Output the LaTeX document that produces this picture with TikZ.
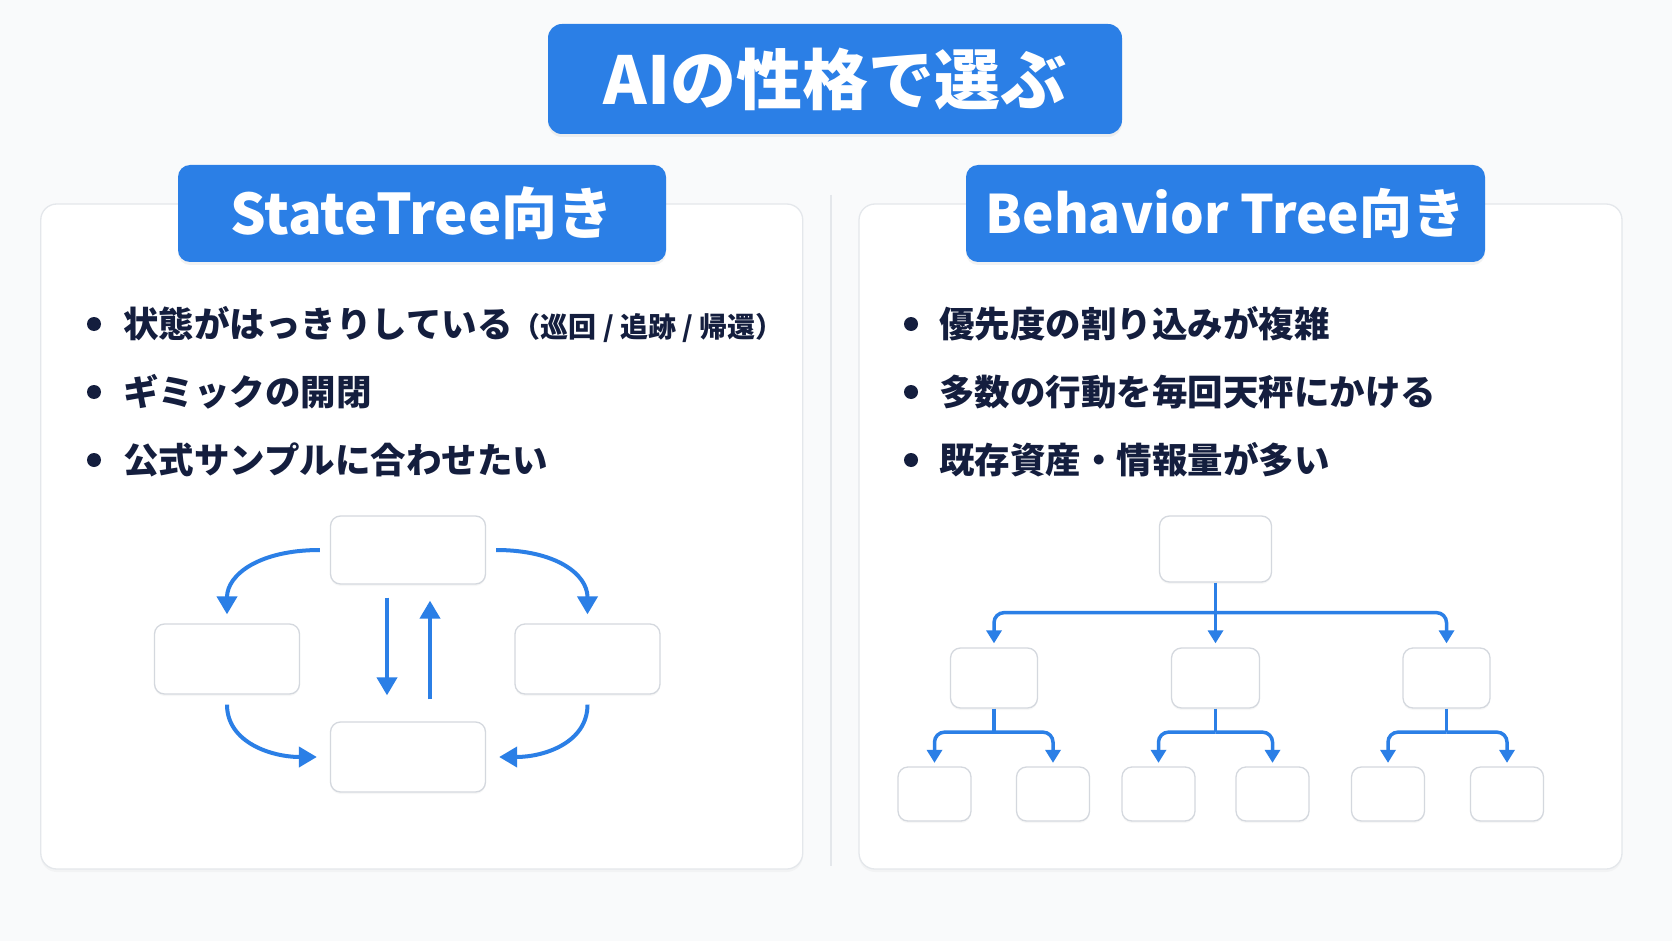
\documentclass[tikz,border=0pt]{standalone}
\usepackage{fontspec}
\setmainfont{Noto Sans CJK JP}[BoldFont={Noto Sans CJK JP Black}]
\usetikzlibrary{arrows.meta,shadows,calc}
\definecolor{bgcol}{RGB}{249,250,251}
\definecolor{blueA}{RGB}{43,127,230}
\definecolor{navy}{RGB}{20,30,62}
\definecolor{panelborder}{RGB}{228,231,235}
\definecolor{boxborder}{RGB}{212,216,222}
\tikzset{
  panel/.style={draw=panelborder, line width=1.3pt, fill=white, rounded corners=16pt, inner sep=0pt,
    drop shadow={opacity=0.05, shadow xshift=0pt, shadow yshift=-3pt}},
  hdr/.style={fill=blueA, rounded corners=12pt, text=white, inner sep=0pt,
    drop shadow={opacity=0.10, shadow xshift=0pt, shadow yshift=-3pt}},
  sbox/.style={draw=boxborder, line width=1.3pt, fill=white, rounded corners=10pt, inner sep=0pt,
    drop shadow={opacity=0.06, shadow xshift=0pt, shadow yshift=-2pt}},
  bul/.style={anchor=west, inner sep=0pt, text=navy, font=\bfseries\fontsize{35.5}{40}\selectfont},
  dot/.style={circle, fill=navy, inner sep=0pt, minimum size=14pt},
  arr/.style={draw=blueA, line width=4pt, -{Triangle[width=20pt,length=18pt]}},
  tarr/.style={draw=blueA, line width=3.5pt, -{Triangle[width=15pt,length=13pt]}, rounded corners=10pt},
  tline/.style={draw=blueA, line width=3.5pt},
}
\begin{document}
\begin{tikzpicture}[x=1pt,y=-1pt]
\useasboundingbox (0,0) rectangle (1672,941);
\fill[bgcol] (0,0) rectangle (1672,941);

% panels
\node[panel, minimum width=762pt, minimum height=665pt] (lp) at (421.75,536.5) {};
\node[panel, minimum width=763pt, minimum height=665pt] (rp) at (1240.5,536.5) {};
\coordinate (dv1) at (831,195);
\coordinate (dv2) at (831,866);
\draw[panelborder, line width=1.5pt] (dv1) -- (dv2);

% title
\node[hdr, rounded corners=14pt, minimum width=574pt, minimum height=110pt,
  font=\bfseries\fontsize{66}{72}\selectfont] (title) at (835,79) {AIの性格で選ぶ};

% headers
\node[hdr, minimum width=488pt, minimum height=97pt,
  font=\bfseries\fontsize{56}{64}\selectfont] (lh) at (422,213.5) {StateTree向き};
\node[hdr, minimum width=519pt, minimum height=97pt,
  font=\bfseries\fontsize{53}{60}\selectfont] (rh) at (1225.5,213.5) {Behavior Tree向き};

% left bullets
\node[dot] (ld1) at (94,324) {};
\node[dot] (ld2) at (94,392) {};
\node[dot] (ld3) at (94,460) {};
\node[bul] (lt1) at (123,324) {状態がはっきりしている{\fontsize{28}{30}\selectfont （巡回 / 追跡 / 帰還）}};
\node[bul] (lt2) at (123,392) {ギミックの開閉};
\node[bul] (lt3) at (123,460) {公式サンプルに合わせたい};

% right bullets
\node[dot] (rd1) at (911,324) {};
\node[dot] (rd2) at (911,392) {};
\node[dot] (rd3) at (911,460) {};
\node[bul] (rt1) at (939,324) {優先度の割り込みが複雑};
\node[bul] (rt2) at (939,392) {多数の行動を毎回天秤にかける};
\node[bul] (rt3) at (939,460) {既存資産・情報量が多い};

% state diagram
\node[sbox, minimum width=155pt, minimum height=68pt] (st1) at (408,550) {};
\node[sbox, minimum width=145pt, minimum height=70pt] (st2) at (227,659) {};
\node[sbox, minimum width=145pt, minimum height=70pt] (st3) at (587.5,659) {};
\node[sbox, minimum width=155pt, minimum height=70pt] (st4) at (408,757) {};

\draw[arr] ([xshift=-10pt]st1.west) .. controls +(-60,0) and +(0,-40) .. ([yshift=9pt]st2.north);
\draw[arr] ([xshift=10pt]st1.east) .. controls +(60,0) and +(0,-40) .. ([yshift=9pt]st3.north);
\draw[arr] ([yshift=-10pt]st2.south) .. controls +(0,38) and +(-45,0) .. ([xshift=-13pt]st4.west);
\draw[arr] ([yshift=-10pt]st3.south) .. controls +(0,38) and +(45,0) .. ([xshift=13pt]st4.east);
\draw[arr] ([xshift=-21pt,yshift=-13pt]st1.south) -- ([xshift=-21pt,yshift=26pt]st4.north);
\draw[arr] ([xshift=22pt,yshift=22pt]st4.north) -- ([xshift=22pt,yshift=-16pt]st1.south);

% behavior tree
\node[sbox, minimum width=112pt, minimum height=66pt] (root) at (1215.5,549) {};
\node[sbox, minimum width=87pt, minimum height=60pt] (m1) at (994,678) {};
\node[sbox, minimum width=88pt, minimum height=60pt] (m2) at (1215.5,678) {};
\node[sbox, minimum width=87pt, minimum height=60pt] (m3) at (1446.5,678) {};
\node[sbox, minimum width=73pt, minimum height=54pt] (l1) at (934.5,794) {};
\node[sbox, minimum width=73pt, minimum height=54pt] (l2) at (1053,794) {};
\node[sbox, minimum width=73pt, minimum height=54pt] (l3) at (1158.5,794) {};
\node[sbox, minimum width=73pt, minimum height=54pt] (l4) at (1272.5,794) {};
\node[sbox, minimum width=73pt, minimum height=54pt] (l5) at (1388,794) {};
\node[sbox, minimum width=73pt, minimum height=54pt] (l6) at (1507,794) {};

\coordinate (j0) at ([yshift=-30pt]root.south);
\draw[tarr] (root.south) -- ([yshift=4pt]m2.north);
\draw[tarr] (j0) -| ([yshift=4pt]m1.north);
\draw[tarr] (j0) -| ([yshift=4pt]m3.north);

\coordinate (j1) at ([yshift=-23.5pt]m1.south);
\coordinate (j2) at ([yshift=-23.5pt]m2.south);
\coordinate (j3) at ([yshift=-23.5pt]m3.south);
\draw[tline] (m1.south) -- (j1);
\draw[tline] (m2.south) -- (j2);
\draw[tline] (m3.south) -- (j3);
\draw[tarr] (j1) -| ([yshift=3.5pt]l1.north);
\draw[tarr] (j1) -| ([yshift=3.5pt]l2.north);
\draw[tarr] (j2) -| ([yshift=3.5pt]l3.north);
\draw[tarr] (j2) -| ([yshift=3.5pt]l4.north);
\draw[tarr] (j3) -| ([yshift=3.5pt]l5.north);
\draw[tarr] (j3) -| ([yshift=3.5pt]l6.north);
\end{tikzpicture}
\end{document}
